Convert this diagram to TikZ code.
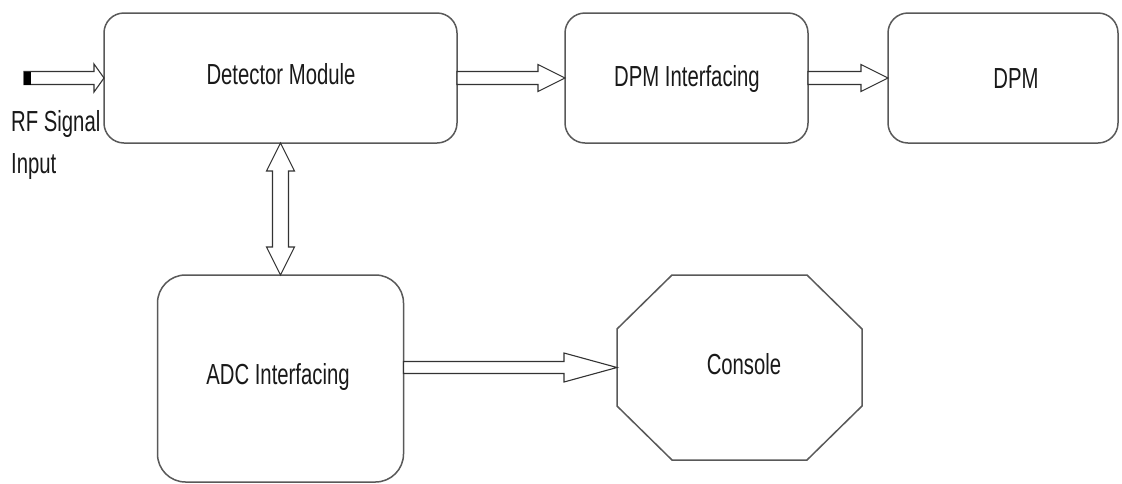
\documentclass[tikz,border=0pt]{standalone}
\usepackage{fontspec}
\setmainfont{Liberation Sans}[FakeStretch=0.70]
\usetikzlibrary{calc}
% horizontal block arrow: from #1 to #2, shaft half #3, head half #4, head length #5
\newcommand\hblock[6][]{%
  \draw[arr,#1] ($(#2)+(0,#4)$) -- ($(#3)+(-#6,#4)$) -- ($(#3)+(-#6,#5)$) -- (#3)
    -- ($(#3)+(-#6,-#5)$) -- ($(#3)+(-#6,-#4)$) -- ($(#2)+(0,-#4)$) -- cycle;}
% vertical double block arrow from #1 (top) to #2 (bottom)
\newcommand\vdblock[5]{%
  \draw[arr] (#1) -- ($(#1)+(#4,#5)$) -- ($(#1)+(#3,#5)$) -- ($(#2)+(#3,-#5)$)
    -- ($(#2)+(#4,-#5)$) -- (#2) -- ($(#2)+(-#4,-#5)$) -- ($(#2)+(-#3,-#5)$)
    -- ($(#1)+(-#3,#5)$) -- ($(#1)+(-#4,#5)$) -- cycle;}
\begin{document}
\begin{tikzpicture}[x=1pt,y=-1pt,
  box/.style={draw=black!65, line width=1.5pt, rounded corners=20pt, fill=white,
              inner sep=0pt, outer sep=0pt},
  lbl/.style={font=\fontsize{29}{32}\selectfont, text=black!90, inner sep=0pt, anchor=base},
  arr/.style={draw=black!80, line width=1.1pt, fill=white, line join=miter}]
\useasboundingbox (0,0) rectangle (1122,483);
\fill[white] (0,0) rectangle (1122,483);

% boxes
\node[box, minimum width=353pt, minimum height=130pt] (det)  at (280.5,78) {};
\node[box, minimum width=243pt, minimum height=130pt] (dpmi) at (686.5,78) {};
\node[box, minimum width=230pt, minimum height=130pt] (dpm)  at (1003,78) {};
\node[box, minimum width=246pt, minimum height=207pt, rounded corners=28pt] (adc) at (280.5,378.5) {};
\node[inner sep=0pt, outer sep=0pt, minimum width=245pt, minimum height=185pt] (con) at (739.5,367.5) {};
\draw[box, rounded corners=0pt]
  ($(con.north west)+(55,0)$) -- ($(con.north east)+(-55,0)$) -- ($(con.north east)+(0,54)$)
  -- ($(con.south east)+(0,-54)$) -- ($(con.south east)+(-55,0)$) -- ($(con.south west)+(55,0)$)
  -- ($(con.south west)+(0,-54)$) -- ($(con.north west)+(0,54)$) -- cycle;

% labels
\node[lbl] (detl)  at (281,84)  {Detector Module};
\node[lbl] (dpmil) at (687,86)  {DPM Interfacing};
\node[lbl] (dpml)  at (1016,88) {DPM};
\node[lbl] (adcl)  at (278,384) {ADC Interfacing};
\node[lbl] (conl)  at (744,374) {Console};
\node[lbl, anchor=base west] (rf1) at (11,131) {RF Signal};
\node[lbl, anchor=base west] (rf2) at (11,173) {Input};

% connectors
\coordinate (in) at (24,78);
\hblock{in}{det.west}{6.5}{14}{10}
\fill[black] ($(in)+(0,-6.5)$) rectangle ($(in)+(7,6.5)$);
\hblock{det.east}{dpmi.west}{6.5}{13.5}{27}
\hblock{dpmi.east}{dpm.west}{6.5}{13.5}{27}
\hblock{adc.east |- con.west}{con.west}{6}{14.5}{53}
\vdblock{det.south}{adc.north}{8}{14}{28}
\end{tikzpicture}
\end{document}
